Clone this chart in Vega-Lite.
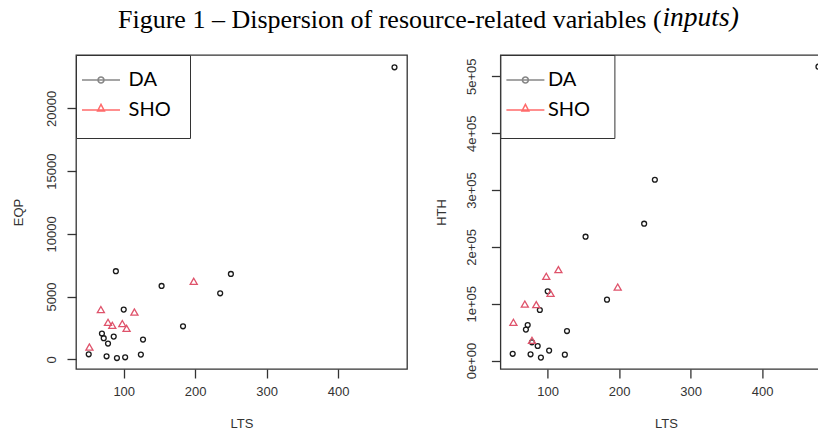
{
  "$schema": "https://vega.github.io/schema/vega-lite/v6.json",
  "padding": {"left": 11, "top": 3, "right": -15, "bottom": 0},
  "background": "white",
  "datasets": {
    "pts": [
      {"g": "DA", "LTS": 51, "EQP": 400, "HTH": 12000},
      {"g": "DA", "LTS": 69.5, "EQP": 2050, "HTH": 54500},
      {"g": "DA", "LTS": 72, "EQP": 1680, "HTH": 62600},
      {"g": "DA", "LTS": 76, "EQP": 240, "HTH": 11100},
      {"g": "DA", "LTS": 78, "EQP": 1250, "HTH": 32200},
      {"g": "DA", "LTS": 86, "EQP": 1810, "HTH": 25700},
      {"g": "DA", "LTS": 89, "EQP": 7020, "HTH": 89000},
      {"g": "DA", "LTS": 90.5, "EQP": 100, "HTH": 5300},
      {"g": "DA", "LTS": 100, "EQP": 3960, "HTH": 121800},
      {"g": "DA", "LTS": 102, "EQP": 160, "HTH": 17600},
      {"g": "DA", "LTS": 124, "EQP": 375, "HTH": 10500},
      {"g": "DA", "LTS": 127, "EQP": 1570, "HTH": 52000},
      {"g": "DA", "LTS": 153, "EQP": 5845, "HTH": 217900},
      {"g": "DA", "LTS": 183, "EQP": 2630, "HTH": 107200},
      {"g": "DA", "LTS": 235, "EQP": 5260, "HTH": 240800},
      {"g": "DA", "LTS": 250, "EQP": 6800, "HTH": 318100},
      {"g": "DA", "LTS": 479, "EQP": 23270, "HTH": 517000},
      {"g": "SHO", "LTS": 52, "EQP": 980, "HTH": 67300},
      {"g": "SHO", "LTS": 68, "EQP": 3960, "HTH": 99500},
      {"g": "SHO", "LTS": 78, "EQP": 2950, "HTH": 35700},
      {"g": "SHO", "LTS": 84, "EQP": 2710, "HTH": 98400},
      {"g": "SHO", "LTS": 98, "EQP": 2850, "HTH": 148200},
      {"g": "SHO", "LTS": 104, "EQP": 2470, "HTH": 118300},
      {"g": "SHO", "LTS": 115, "EQP": 3770, "HTH": 160000},
      {"g": "SHO", "LTS": 198, "EQP": 6220, "HTH": 129400}
    ]
  },
  "data": {"name": "pts"},
  "bounds": "flush",
  "spacing": 93.4,
  "resolve": {
    "scale": {"color": "independent", "shape": "independent", "size": "independent"},
    "legend": {"color": "independent", "shape": "independent"}
  },
  "hconcat": [
    {
      "width": 331,
      "height": 314,
      "title": {"text": "Figure 1 – Dispersion of resource-related variables (", "anchor": "start", "frame": "group", "dx": 42, "offset": 1, "baseline": "alphabetic", "font": "Liberation Serif", "fontSize": 26, "fontWeight": "normal", "color": "black"},
      "resolve": {"scale": {"color": "independent", "shape": "independent"}},
      "layer": [
        {
          "mark": {"type": "point", "filled": false, "strokeWidth": 1.3, "opacity": 1},
          "encoding": {
            "x": {"field": "LTS", "type": "quantitative", "scale": {"domain": [33.2, 496.5], "nice": false, "zero": false},
                  "axis": {"title": "LTS", "values": [100, 200, 300, 400], "labelPadding": 7, "titlePadding": 19}},
            "y": {"field": "EQP", "type": "quantitative", "scale": {"domain": [-773, 24250], "nice": false, "zero": false},
                  "axis": {"title": "EQP", "values": [0, 5000, 10000, 15000, 20000], "format": "d", "labelAngle": -90, "labelAlign": "center", "labelBaseline": "bottom", "labelPadding": 8.5, "titlePadding": 20.5}},
            "color": {"field": "g", "type": "nominal", "scale": {"domain": ["DA", "SHO"], "range": ["#1a1a1a", "#df536b"]}, "legend": null},
            "shape": {"field": "g", "type": "nominal", "scale": {"domain": ["DA", "SHO"], "range": ["circle", "triangle-up"]}, "legend": null},
            "size": {"field": "g", "type": "ordinal", "scale": {"domain": ["DA", "SHO"], "range": [24, 50]}, "legend": null}
          }
        },
        {
          "transform": [{"filter": "false"}],
          "mark": {"type": "point", "filled": false},
          "encoding": {
            "color": {"field": "g", "type": "nominal", "scale": {"domain": ["DA", "SHO"], "range": ["#555555", "#ff2d2d"]},
                      "legend": {"title": null, "orient": "top-left", "offset": 0, "padding": 5, "strokeColor": "#333333", "fillColor": "white", "symbolSize": 1444, "symbolStrokeWidth": 1.5, "symbolOffset": 0, "labelFont": "Lato", "labelFontSize": 20, "labelColor": "black", "labelOffset": 7.6, "rowPadding": 0}},
            "shape": {"field": "g", "type": "nominal", "scale": {"domain": ["DA", "SHO"], "range": ["M-1,0L1,0M-0.158,0A0.158,0.158,0,1,1,0.158,0A0.158,0.158,0,1,1,-0.158,0M0,-1.37M4.24,0", "M-1,0L1,0M0,-0.3L0.18,0.05L-0.18,0.05ZM0,1.03M4.24,0"]},
                      "legend": {"title": null, "orient": "top-left", "offset": 0, "padding": 5, "strokeColor": "#333333", "fillColor": "white", "symbolSize": 1444, "symbolStrokeWidth": 1.5, "symbolOffset": 0, "labelFont": "Lato", "labelFontSize": 20, "labelColor": "black", "labelOffset": 7.6, "rowPadding": 0}}
          }
        }
      ]
    },
    {
      "width": 331,
      "height": 314,
      "title": {"text": "inputs)", "anchor": "start", "frame": "group", "dx": 162, "offset": 1, "baseline": "alphabetic", "font": "Liberation Serif", "fontStyle": "italic", "fontSize": 27.5, "fontWeight": "normal", "color": "black"},
      "resolve": {"scale": {"color": "independent", "shape": "independent"}},
      "layer": [
        {
          "mark": {"type": "point", "filled": false, "strokeWidth": 1.3, "opacity": 1},
          "encoding": {
            "x": {"field": "LTS", "type": "quantitative", "scale": {"domain": [33.8, 497.1], "nice": false, "zero": false},
                  "axis": {"title": "LTS", "values": [100, 200, 300, 400], "labelPadding": 7, "titlePadding": 19}},
            "y": {"field": "HTH", "type": "quantitative", "scale": {"domain": [-14770, 537500], "nice": false, "zero": false},
                  "axis": {"title": "HTH", "values": [0, 100000, 200000, 300000, 400000, 500000], "labelExpr": "(datum.value / 100000) + (datum.value === 0 ? 'e+00' : 'e+05')", "labelAngle": -90, "labelAlign": "center", "labelBaseline": "bottom", "labelPadding": 12.7, "titlePadding": 17.6}},
            "color": {"field": "g", "type": "nominal", "scale": {"domain": ["DA", "SHO"], "range": ["#1a1a1a", "#df536b"]}, "legend": null},
            "shape": {"field": "g", "type": "nominal", "scale": {"domain": ["DA", "SHO"], "range": ["circle", "triangle-up"]}, "legend": null},
            "size": {"field": "g", "type": "ordinal", "scale": {"domain": ["DA", "SHO"], "range": [24, 50]}, "legend": null}
          }
        },
        {
          "transform": [{"filter": "false"}],
          "mark": {"type": "point", "filled": false},
          "encoding": {
            "color": {"field": "g", "type": "nominal", "scale": {"domain": ["DA", "SHO"], "range": ["#555555", "#ff2d2d"]},
                      "legend": {"title": null, "orient": "top-left", "offset": 0, "padding": 5, "strokeColor": "#333333", "fillColor": "white", "symbolSize": 1444, "symbolStrokeWidth": 1.5, "symbolOffset": 0, "labelFont": "Lato", "labelFontSize": 20, "labelColor": "black", "labelOffset": 2.5, "rowPadding": 0}},
            "shape": {"field": "g", "type": "nominal", "scale": {"domain": ["DA", "SHO"], "range": ["M-1,0L1,0M-0.158,0A0.158,0.158,0,1,1,0.158,0A0.158,0.158,0,1,1,-0.158,0M0,-1.37M4.24,0", "M-1,0L1,0M0,-0.3L0.18,0.05L-0.18,0.05ZM0,1.03M4.24,0"]},
                      "legend": {"title": null, "orient": "top-left", "offset": 0, "padding": 5, "strokeColor": "#333333", "fillColor": "white", "symbolSize": 1444, "symbolStrokeWidth": 1.5, "symbolOffset": 0, "labelFont": "Lato", "labelFontSize": 20, "labelColor": "black", "labelOffset": 2.5, "rowPadding": 0}}
          }
        }
      ]
    }
  ],
  "config": {
    "view": {"stroke": "#333333", "strokeWidth": 1.3},
    "axis": {"grid": false, "domain": false, "ticks": true, "tickColor": "#333333", "tickSize": 9, "tickWidth": 1.3,
             "labelFont": "Liberation Sans", "labelFontSize": 13, "labelColor": "#333333",
             "titleFont": "Liberation Sans", "titleFontSize": 13, "titleColor": "#333333", "titleFontWeight": "normal"}
  }
}
